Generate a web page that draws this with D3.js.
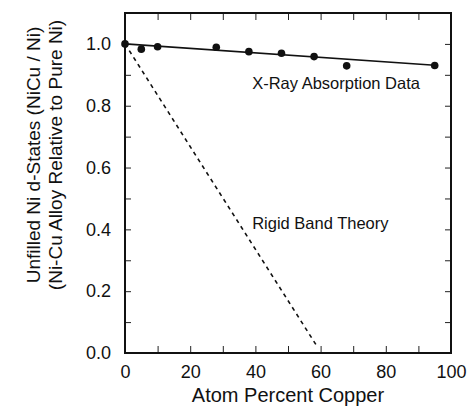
<!DOCTYPE html>
<html>
<head>
<meta charset="utf-8">
<script src="https://cdnjs.cloudflare.com/ajax/libs/d3/7.8.5/d3.min.js"></script>
<style>
  body { margin: 0; background: white; }
  text { font-family: "Liberation Sans", Arial, Helvetica, sans-serif; fill: #111; }
</style>
</head>
<body>
<div id="chart"></div>
<script>

// measured points (atom % Cu vs. unfilled Ni d-state ratio)
var copperPct = [0, 5, 10, 28, 38, 48, 58, 68, 95];
var unfilledRatio = [1.0, 0.983, 0.991, 0.989, 0.975, 0.970, 0.959, 0.929, 0.930];

// straight fit through the x-ray data
var fitPct = [0, 95];
var fitRatio = [1.0, 0.931];

// rigid band prediction
var rigidPct = [0, 59];
var rigidRatio = [1.0, 0.02];

var xTicks = [0, 10, 20, 30, 40, 50, 60, 70, 80, 90, 100];
var xLabels = [0, 20, 40, 60, 80, 100];
var yTicks = [0, 0.1, 0.2, 0.3, 0.4, 0.5, 0.6, 0.7, 0.8, 0.9, 1.0];
var yLabels = [0, 0.2, 0.4, 0.6, 0.8, 1.0];

var xTitle = "Atom Percent Copper";
var yTitle1 = "Unfilled Ni d-States (NiCu / Ni)";
var yTitle2 = "(Ni-Cu Alloy Relative to Pure Ni)";
var dataLabel = "X-Ray Absorption Data";
var theoryLabel = "Rigid Band Theory";

var width = 469, height = 407;
var margin = {top: 13, right: 18, bottom: 54, left: 125};

var svg = d3.select("#chart").append("svg")
            .attr("width", width)
            .attr("height", height);

var x = d3.scaleLinear()
          .domain([0, 100])
          .range([margin.left, width - margin.right]);

var y = d3.scaleLinear()
          .domain([0, 1.1])
          .range([height - margin.bottom, margin.top]);

function xLabel(d) {
  return xLabels.indexOf(d) >= 0 ? d3.format("d")(d) : "";
}
function yLabel(d) {
  return yLabels.some(function(v) { return Math.abs(v - d) < 1e-9; }) ? d3.format(".1f")(d) : "";
}

// bottom + left with labels, top + right ticks only
svg.append("g")
   .attr("transform", "translate(0," + y(0) + ")")
   .call(d3.axisBottom(x).tickValues(xTicks).tickSizeInner(-7).tickSizeOuter(0)
           .tickPadding(12).tickFormat(xLabel))
   .attr("font-size", 18);

svg.append("g")
   .attr("transform", "translate(" + x(0) + ",0)")
   .call(d3.axisLeft(y).tickValues(yTicks).tickSizeInner(-6).tickSizeOuter(0)
           .tickPadding(14).tickFormat(yLabel))
   .attr("font-size", 18);

svg.append("g")
   .attr("transform", "translate(0," + y(1.1) + ")")
   .call(d3.axisTop(x).tickValues(xTicks).tickSizeInner(-7).tickSizeOuter(0).tickFormat(""));

svg.append("g")
   .attr("transform", "translate(" + x(100) + ",0)")
   .call(d3.axisRight(y).tickValues(yTicks).tickSizeInner(-6).tickSizeOuter(0).tickFormat(""));

svg.selectAll(".domain").remove();
svg.selectAll(".tick line").attr("stroke", "#222").attr("stroke-width", 1);
svg.selectAll(".tick text").attr("fill", "#111")
   .attr("font-family", "Liberation Sans, Arial, sans-serif");

// plot frame
svg.append("rect")
   .attr("x", x(0))
   .attr("y", y(1.1))
   .attr("width", x(100) - x(0))
   .attr("height", y(0) - y(1.1))
   .attr("fill", "none")
   .attr("stroke", "#111")
   .attr("stroke-width", 2);

var line = d3.line()
             .x(function(d) { return x(d[0]); })
             .y(function(d) { return y(d[1]); });

svg.append("path")
   .datum(d3.zip(fitPct, fitRatio))
   .attr("d", line)
   .attr("fill", "none")
   .attr("stroke", "#111")
   .attr("stroke-width", 1.6);

svg.append("path")
   .datum(d3.zip(rigidPct, rigidRatio))
   .attr("d", line)
   .attr("fill", "none")
   .attr("stroke", "#111")
   .attr("stroke-width", 1.6)
   .attr("stroke-dasharray", "4,4");

svg.selectAll(".pt")
   .data(d3.zip(copperPct, unfilledRatio))
   .enter().append("circle")
   .attr("class", "pt")
   .attr("cx", function(d) { return x(d[0]); })
   .attr("cy", function(d) { return y(d[1]); })
   .attr("r", 3.8)
   .attr("fill", "#111");

svg.append("text")
   .attr("x", x(39))
   .attr("y", y(0.855))
   .attr("font-size", "16.5px")
   .text(dataLabel);

svg.append("text")
   .attr("x", x(39))
   .attr("y", y(0.402))
   .attr("font-size", "16.5px")
   .text(theoryLabel);

svg.append("text")
   .attr("x", (x(0) + x(100)) / 2)
   .attr("y", 402)
   .attr("text-anchor", "middle")
   .attr("font-size", "20px")
   .text(xTitle);

var yTitle = svg.append("text")
                .attr("transform", "translate(40,155) rotate(-90)")
                .attr("text-anchor", "middle")
                .attr("font-size", "19px");

yTitle.append("tspan")
      .attr("x", 0)
      .attr("y", 0)
      .text(yTitle1);

yTitle.append("tspan")
      .attr("x", 0)
      .attr("y", 22)
      .text(yTitle2);

</script>
</body>
</html>
